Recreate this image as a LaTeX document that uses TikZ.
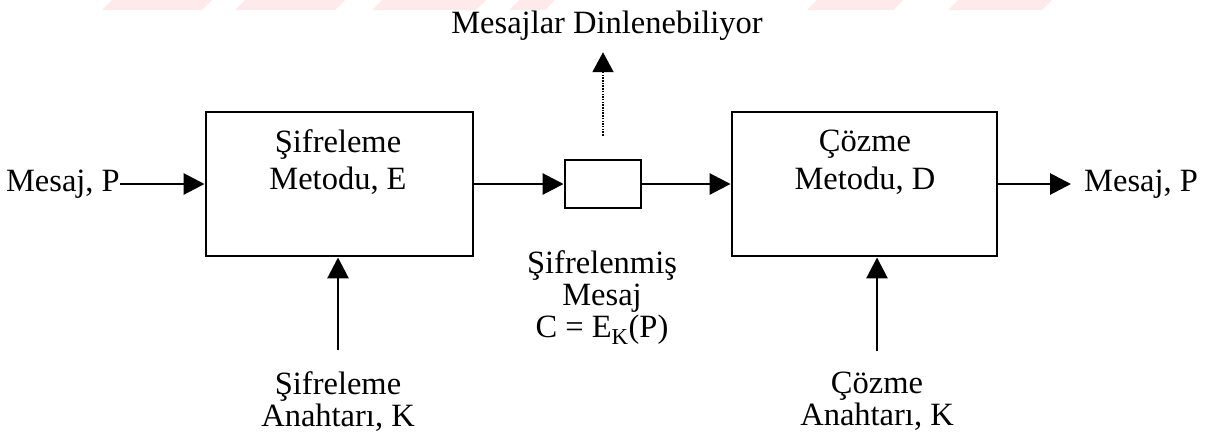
\documentclass[tikz,border=0pt]{standalone}
\usepackage{fontspec}
\setmainfont{Liberation Serif}
\usetikzlibrary{arrows.meta}
\definecolor{wmpink}{RGB}{254,234,234}
\begin{document}
\begin{tikzpicture}[x=1pt,y=-1pt,
  txt/.style={font=\fontsize{32.5}{33}\selectfont, inner sep=0pt, align=center},
  txtbox/.style={font=\fontsize{32.5}{37.5}\selectfont, inner sep=0pt, align=center},
  txtlow/.style={font=\fontsize{32.5}{32}\selectfont, inner sep=0pt, align=center},
  box/.style={draw, line width=2.9pt, inner sep=0pt},
  arr/.style={line width=2.9pt, -{Triangle[length=21pt,width=21pt]}},
  dotarr/.style={line width=2pt, dash pattern=on 1.5pt off 1.2pt, -{Triangle[length=20pt,width=21pt]}}]
\useasboundingbox (0,0) rectangle (1223,437);
% faint watermark
\foreach \a/\b in {102/202, 235/335, 372/476, 509/545, 807/893, 948/1042}
  \fill[wmpink] (\a,10) -- (\b,10) -- (\b+10,0) -- (\a+10,0) -- cycle;
% boxes
\node[box, minimum width=267pt, minimum height=144pt] (enc) at (339.5,184) {};
\node[box, minimum width=76pt, minimum height=48pt] (chan) at (603,184) {};
\node[box, minimum width=265pt, minimum height=144pt] (dec) at (864.5,184) {};
% texts
\node[txtbox] (enctext) at (338,162) {Şifreleme\\Metodu, E};
\node[txtbox] (dectext) at (865,162) {Çözme\\Metodu, D};
\node[txt, anchor=base east] (inP) at (120,191) {Mesaj, P};
\node[txt, anchor=base west] (outP) at (1084,191) {Mesaj, P};
\node[txt, anchor=base] (lis) at (607,33) {Mesajlar Dinlenebiliyor};
\node[txtlow] (cmsg) at (602,298) {Şifrelenmiş\\Mesaj\\C = E\textsubscript{K}(P)};
\node[txtlow] (keyE) at (338,401.5) {Şifreleme\\Anahtarı, K};
\node[txtlow] (keyD) at (877,401.5) {Çözme\\Anahtarı, K};
% connectors
\draw[arr] (inP.east |- enc.west) -- (enc.west);
\draw[arr] (enc.east) -- (chan.west);
\draw[arr] (chan.east) -- (dec.west);
\draw[arr, shorten >=13pt] (dec.east) -- (outP.west |- dec.east);
\draw[dotarr, shorten <=23pt, shorten >=12pt] (chan.north) -- (chan.north |- lis.south);
\draw[arr, shorten <=21pt] (keyE.north) -- (keyE.north |- enc.south);
\draw[arr, shorten <=21pt] (keyD.north) -- (keyD.north |- dec.south);
\end{tikzpicture}
\end{document}
